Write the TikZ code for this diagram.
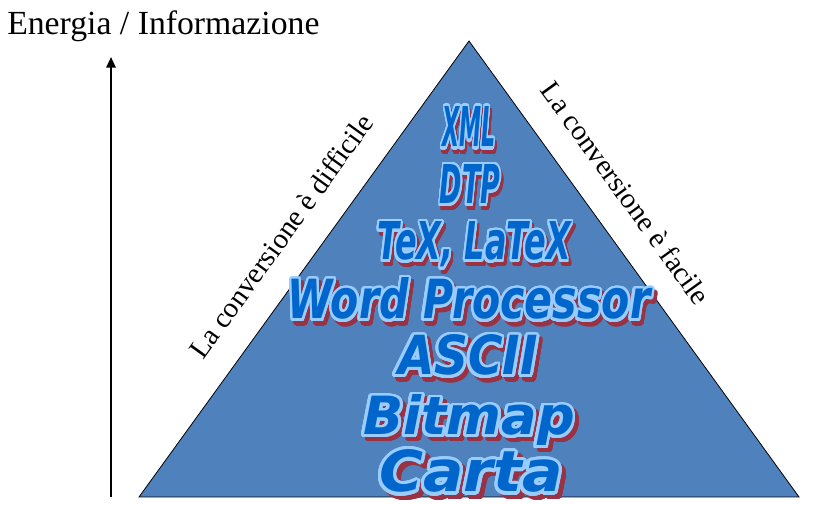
\documentclass[tikz,border=0pt]{standalone}
\usepackage{fontspec}
\setmainfont{Liberation Serif}
\newfontface\artface{DejaVu Sans Bold Oblique}
\usepackage{graphicx}
\usepackage{contour}
\usetikzlibrary{arrows.meta}
\definecolor{pyramid}{HTML}{4F81BD}
\definecolor{artblue}{HTML}{0066CC}
\definecolor{artlight}{HTML}{99CCFF}
\definecolor{artred}{HTML}{993344}
\contourlength{2.2pt}
\contournumber{32}
\newcommand{\wordart}[3]{%
  \resizebox{#1}{#2}{\artface\fontsize{40}{40}\selectfont
    \rlap{\hspace{3pt}\raisebox{-3pt}{{\color{artred}\contour{artred}{#3}}}}%
    {\color{artblue}\contour{artlight}{#3}}}%
}

\begin{document}
\begin{tikzpicture}[x=0.75pt, y=-0.75pt,
  pyr/.style={draw=black, line width=0.6pt, fill=pyramid},
  axis/.style={-{Triangle[length=8pt, width=7pt]}, line width=1.6pt},
  side/.style={font=\fontsize{21.5}{24}\selectfont, inner sep=0pt},
  title/.style={font=\fontsize{25.3}{28}\selectfont, inner sep=0pt, anchor=base west},
  art/.style={inner sep=0pt, anchor=base}
]
\useasboundingbox (0,0) rectangle (822,505);

% ===== Axis =====
\node[title] (energy) at (7,35) {Energia / Informazione};
\coordinate (axisbot) at (111,497);
\coordinate (axistop) at (111,57);
\draw[axis] (axisbot) -- (axistop);

% ===== Pyramid =====
\coordinate (apex) at (469,41);
\coordinate (baseL) at (139,497);
\coordinate (baseR) at (799,497);
\draw[pyr] (baseL) -- (apex) -- (baseR) -- cycle;

\node[side, rotate=54.2] (hard) at (281,236) {La conversione è difficile};
\node[side, rotate=-54.1] (easy) at (626,193) {La conversione è facile};

% ===== Levels =====
\foreach \n/\x/\y/\w/\h/\txt in {xml/469/147/40/30/XML, dtp/470/204/45.5/29.25/DTP,
    tex/474/260/145/28.5/{TeX, LaTeX}, word/469/319/272/30.75/Word Processor,
    ascii/468/375/105/30/ASCII, bitmap/469/435/158.5/30/Bitmap, carta/471/492/137.5/31.5/Carta}
  \node[art] (\n) at (\x,\y) {\wordart{\w pt}{\h pt}{\txt}};

\end{tikzpicture}
\end{document}
